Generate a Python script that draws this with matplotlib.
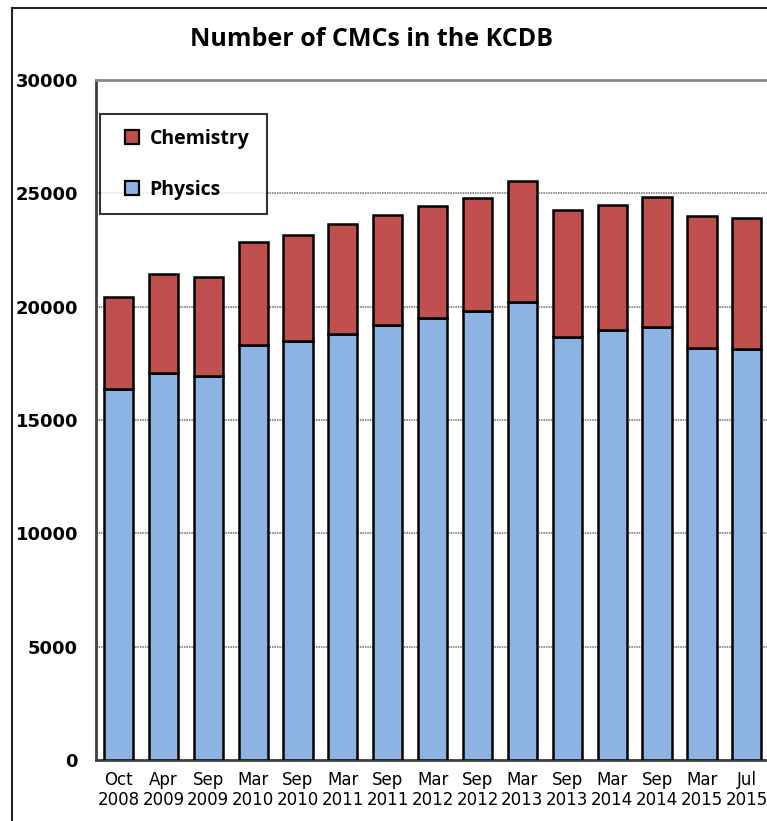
import matplotlib
matplotlib.use("Agg")
import matplotlib.pyplot as plt
from matplotlib.lines import Line2D
import numpy as np

labels = ["Oct\n2008", "Apr\n2009", "Sep\n2009", "Mar\n2010", "Sep\n2010",
          "Mar\n2011", "Sep\n2011", "Mar\n2012", "Sep\n2012", "Mar\n2013",
          "Sep\n2013", "Mar\n2014", "Sep\n2014", "Mar\n2015", "Jul\n2015"]
physics = [16350, 17060, 16920, 18300, 18470, 18780, 19180, 19490, 19800,
           20190, 18650, 18960, 19090, 18160, 18120]
total = [20420, 21430, 21300, 22850, 23150, 23640, 24040, 24440, 24790,
         25540, 24260, 24480, 24830, 23990, 23900]
chemistry = [t - p for t, p in zip(total, physics)]

C_PHYS = "#8db3e2"
C_CHEM = "#c0504d"

plt.rcParams["font.family"] = "DejaVu Sans"

fig = plt.figure(figsize=(7.67, 8.21), dpi=100)
ax = fig.add_axes([96 / 767, 1 - 760 / 821, 1 - 96 / 767, (760 - 80) / 821])

xs = np.arange(len(labels))
ax.bar(xs, physics, 0.65, color=C_PHYS, edgecolor="black", lw=1.8, zorder=3)
ax.bar(xs, chemistry, 0.65, bottom=physics, color=C_CHEM, edgecolor="black",
       lw=1.8, zorder=3)

ax.set_xlim(-0.5, 14.45)
ax.set_ylim(0, 30000)
ax.set_yticks(np.arange(0, 30001, 5000))
ax.set_yticklabels([str(v) for v in range(0, 30001, 5000)],
                   fontweight="bold", fontsize=13)
ax.set_xticks(xs, labels, fontsize=12, linespacing=1.15)
ax.tick_params(length=0, axis="y", pad=13)
ax.tick_params(length=0, axis="x", pad=8)
ax.yaxis.grid(True, color="#707070", ls=(0, (1, 0.6)), lw=1.1, zorder=0)
ax.spines["right"].set_visible(False)
ax.spines["top"].set_color("#888888")
ax.spines["top"].set_linewidth(2)
for s in ("left", "bottom"):
    ax.spines[s].set_color("#404040")
    ax.spines[s].set_linewidth(2)

handles = [Line2D([], [], ls="none", marker="s", ms=10, mfc=C_CHEM, mec="black",
                  mew=1.6, label="Chemistry"),
           Line2D([], [], ls="none", marker="s", ms=10, mfc=C_PHYS, mec="black",
                  mew=1.6, label="Physics")]
leg = ax.legend(handles=handles, loc="upper left",
                bbox_to_anchor=(0.006, 0.0, 0.249, 0.95), mode="expand",
                frameon=True, fancybox=False, edgecolor="black",
                prop={"family": "Open Sans", "weight": "bold", "size": 14},
                handlelength=1.75, handletextpad=0.05,
                labelspacing=1.6, borderpad=0.75, borderaxespad=0)
leg.get_frame().set_linewidth(1.5)

fig.text(0.485, 1 - 40 / 821, "Number of CMCs in the KCDB", ha="center",
         va="center", fontsize=18, fontweight="bold", family="Open Sans")

# outer chart border (left and top visible)
fig.add_artist(Line2D([12 / 767, 12 / 767], [0, 1 - 8 / 821], color="#222222",
                      lw=1.5, transform=fig.transFigure))
fig.add_artist(Line2D([12 / 767, 1], [1 - 8 / 821, 1 - 8 / 821], color="#222222",
                      lw=1.5, transform=fig.transFigure))

fig.savefig("out.png", dpi=100)
